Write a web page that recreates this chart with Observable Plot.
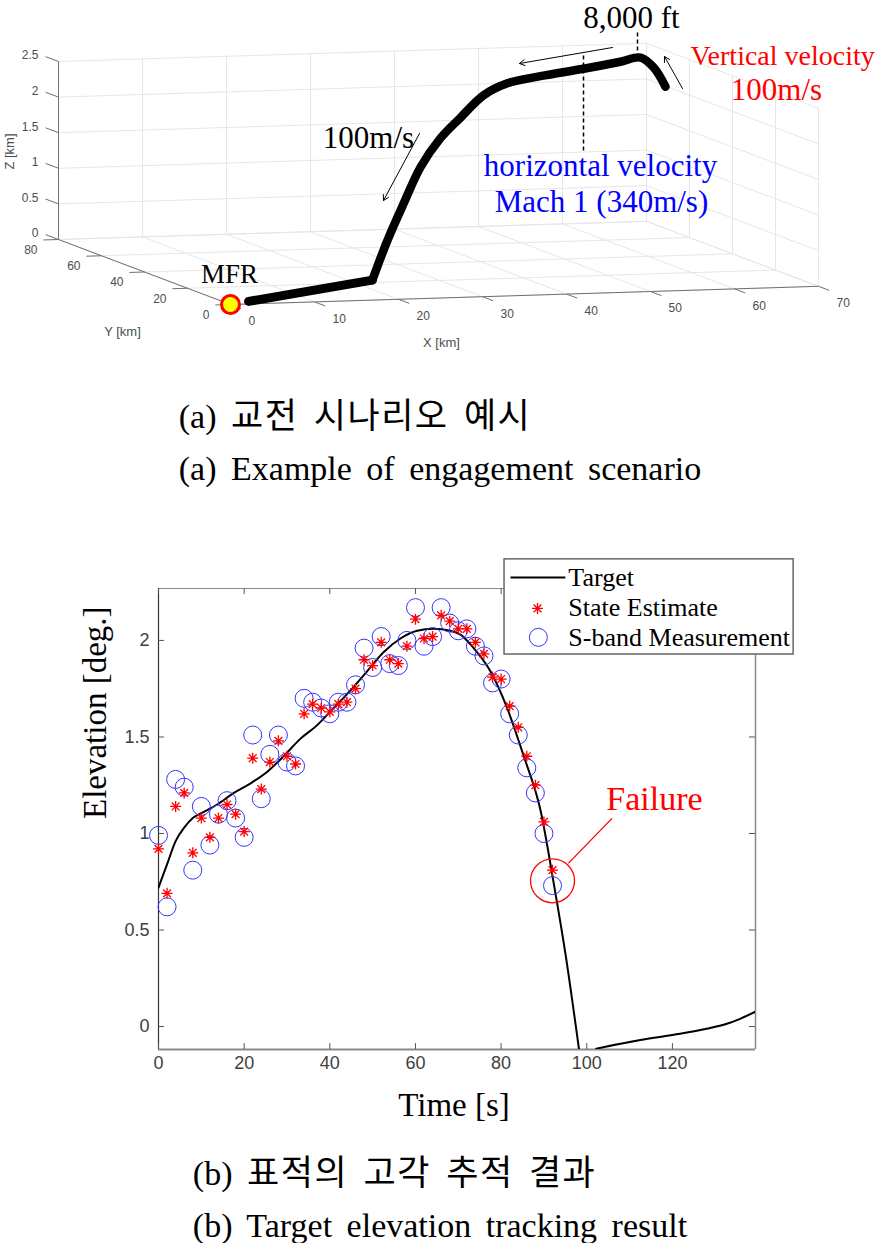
<!DOCTYPE html>
<html><head><meta charset="utf-8">
<script src="https://cdn.jsdelivr.net/npm/d3@7"></script>
<script src="https://cdn.jsdelivr.net/npm/@observablehq/plot@0.6"></script>
<style>
body{margin:0;background:#fff;}
#page{position:relative;width:880px;height:1243px;overflow:hidden;background:#fff;}
#pa{position:absolute;left:0;top:0;}
#pb{position:absolute;left:0;top:540px;}
.capblock{position:absolute;left:440px;transform:translateX(-50%);text-align:left;white-space:nowrap;
  font-family:"Liberation Serif","Noto Sans CJK KR",serif;font-size:34px;line-height:52px;color:#000;word-spacing:6px;}
.ko{font-family:"Noto Sans CJK KR",sans-serif;font-size:35px;letter-spacing:1.5px;}
</style></head><body><div id="page"><div id="pa"></div><div id="pb"></div>
<div class="capblock" style="top:387px"><div>(a) <span class="ko">교전 시나리오 예시</span></div><div>(a) Example of engagement scenario</div></div>
<div class="capblock" style="top:1144px"><div>(b) <span class="ko">표적의 고각 추적 결과</span></div><div>(b) Target elevation tracking result</div></div>
</div>
<script>
// ================= (a) 3-D engagement scenario =================
const xTicks3d = [0, 10, 20, 30, 40, 50, 60, 70];
const yTicks3d = [0, 20, 40, 60, 80];
const zTicks3d = [0, 0.5, 1, 1.5, 2, 2.5];
const zTickLabels3d = ["0", "0.5", "1", "1.5", "2", "2.5"];
// target trajectory [km]: low-altitude leg, then climb / cruise / pop-up
const legX = [2.9, 22.7];
const legY = [2.9, 22.7];
const legZ = [0, 0];
const trajX = [22.7, 25.1, 27.7, 30.4, 33.6, 36.8, 40.5, 44.3, 49.6, 56.5, 62.4, 65.6, 67.7, 69.6];
const trajY = [22.7, 25.1, 27.7, 30.4, 33.6, 36.8, 40.5, 44.3, 49.6, 56.5, 62.4, 65.6, 67.7, 69.6];
const trajZ = [0, 0.52, 1.00, 1.47, 1.83, 2.07, 2.33, 2.44, 2.46, 2.46, 2.47, 2.48, 2.31, 2.01];
const mfrPos = [0, 0, 0];

// ================= (b) elevation tracking =================
const measTime = [0,2,4,6,8,10,12,14,16,18,20,22,24,26,28,30,32,34,36,38,40,42,44,46,48,50,52,54,56,58,60,62,64,66,68,70,72,74,76,78,80,82,84,86,88,90,92];
const measElev = [0.99,0.62,1.28,1.24,0.81,1.14,0.94,1.10,1.17,1.08,0.98,1.51,1.18,1.41,1.51,1.37,1.35,1.70,1.68,1.65,1.62,1.68,1.68,1.77,1.96,1.86,2.02,1.88,1.87,2.00,2.17,1.97,2.02,2.17,2.09,2.05,2.06,1.97,1.92,1.78,1.80,1.62,1.51,1.34,1.21,1.00,0.73];
const estElev = [0.92,0.69,1.14,1.21,0.90,1.08,0.98,1.08,1.15,1.10,1.01,1.39,1.23,1.37,1.48,1.40,1.36,1.62,1.67,1.65,1.63,1.67,1.68,1.75,1.90,1.87,1.99,1.90,1.88,1.97,2.11,2.01,2.02,2.13,2.10,2.06,2.06,1.99,1.93,1.81,1.80,1.66,1.55,1.40,1.25,1.06,0.81];
const targetTime1 = [0,2,4,6,8,10,13.7,17.6,21.5,25.4,29.2,33.1,37,40.9,44.8,48.7,52.6,56.5,60.4,64.2,68.1,70.5,73.6,77.5,81.4,85.3,89.2,92.3,95,98.2];
const targetElev1 = [0.72,0.84,0.96,1.03,1.08,1.105,1.15,1.21,1.26,1.32,1.40,1.49,1.56,1.65,1.74,1.84,1.94,2.01,2.05,2.06,2.05,2.03,1.96,1.84,1.65,1.40,1.12,0.74,0.38,-0.12];
const targetTime2 = [102.2,112.5,120.3,128,132.7,135.8,139.4];
const targetElev2 = [-0.115,-0.07,-0.043,-0.012,0.014,0.04,0.077];
const xTicksB = [0,20,40,60,80,100,120];
const yTicksB = [0,0.5,1,1.5,2];
const yTickLabelsB = ["0","0.5","1","1.5","2"];
const legendLabels = ["Target","State Estimate","S-band Measurement"];
const failureTime = 92;

// ---------- projection of the 3-D box onto the page ----------
const O = [230, 304], UX = [8.4, -0.26], UY = [-2.15, -0.8125], UZ = [0, -71.2];
const proj = (X, Y, Z) => [O[0] + X*UX[0] + Y*UY[0] + Z*UZ[0], O[1] + X*UX[1] + Y*UY[1] + Z*UZ[1]];
const seg = (a, b) => { const p = proj(...a), q = proj(...b); return {x1:p[0], y1:p[1], x2:q[0], y2:q[1]}; };
const xMax = 70, yMax = 80, zMax = 2.5;

const grid = [];
xTicks3d.forEach(X => { grid.push(seg([X,0,0],[X,yMax,0])); grid.push(seg([X,yMax,0],[X,yMax,zMax])); });
yTicks3d.forEach(Y => { grid.push(seg([0,Y,0],[xMax,Y,0])); grid.push(seg([xMax,Y,0],[xMax,Y,zMax])); });
zTicks3d.forEach(Z => { grid.push(seg([0,yMax,Z],[xMax,yMax,Z])); grid.push(seg([xMax,0,Z],[xMax,yMax,Z])); });
const axes3 = [seg([0,yMax,0],[0,yMax,zMax]), seg([0,0,0],[0,yMax,0]), seg([0,0,0],[xMax,0,0])];
const ticks3 = [
  ...zTicks3d.map(Z => seg([0,yMax,Z],[0,yMax+6,Z])),
  ...yTicks3d.map(Y => seg([0,Y,0],[-1.8,Y,0])),
  ...xTicks3d.map(X => seg([X,0,0],[X,-5,0]))
];
const zLab = zTicks3d.map((Z,i) => { const p = proj(0,yMax,Z); return {x:p[0]-20, y:p[1]-6, t:zTickLabels3d[i]}; });
const yLab = yTicks3d.map(Y => { const p = proj(0,Y,0); return {x:p[0]-21, y:p[1]+10.5, t:String(Y)}; });
const xLab = xTicks3d.map(X => { const p = proj(X,0,0); return {x:p[0]+18, y:p[1]+17, t:String(X)}; });
const toPx = (X,Y,Z) => { const p = proj(X,Y,Z); return {px:p[0], py:p[1]}; };
const leg = legX.map((X,i) => toPx(X, legY[i], legZ[i]));
const traj = trajX.map((X,i) => toPx(X, trajY[i], trajZ[i]));
const mfrP = proj(...mfrPos);

// annotations (page pixels of panel a)
const notesA = [
  {x:631, y:18, t:"8,000 ft", c:"#000"},
  {x:776, y:90, t:"100m/s", c:"#ff0000"},
  {x:600, y:166, t:"horizontal velocity", c:"#0000ff"},
  {x:601, y:202, t:"Mach 1 (340m/s)", c:"#0000ff"},
  {x:368, y:138, t:"100m/s", c:"#000"}
];
const arrowsA = [
  {x1:419, y1:133, x2:383, y2:200},
  {x1:612, y1:47, x2:519, y2:63},
  {x1:682, y1:88, x2:664, y2:56}
];
const dashesA = [
  {x1:637, y1:32, x2:637, y2:55},
  {x1:583, y1:55, x2:583, y2:152}
];
const L = {x1:"x1", y1:"y1", x2:"x2", y2:"y2"};

const plotA = Plot.plot({
  width: 880, height: 360, margin: 0,
  x: {domain:[0,880], range:[0,880], axis:null},
  y: {domain:[0,360], range:[0,360], axis:null},
  style: {background:"transparent", overflow:"visible"},
  marks: [
    Plot.link(grid, {...L, stroke:"#e6e6e6", strokeWidth:1}),
    Plot.link(axes3, {...L, stroke:"#707070", strokeWidth:1}),
    Plot.link(ticks3, {...L, stroke:"#707070", strokeWidth:1}),
    Plot.text(zLab, {x:"x", y:"y", text:"t", textAnchor:"end", fontSize:12, fill:"#4d4d4d", fontFamily:"Liberation Sans"}),
    Plot.text(yLab, {x:"x", y:"y", text:"t", textAnchor:"end", fontSize:12, fill:"#4d4d4d", fontFamily:"Liberation Sans"}),
    Plot.text(xLab, {x:"x", y:"y", text:"t", textAnchor:"start", fontSize:12, fill:"#4d4d4d", fontFamily:"Liberation Sans"}),
    Plot.text(["X [km]"], {x:441, y:342, fontSize:13, fill:"#4d4d4d", fontFamily:"Liberation Sans"}),
    Plot.text(["Y [km]"], {x:122, y:331, fontSize:13, fill:"#4d4d4d", fontFamily:"Liberation Sans"}),
    Plot.text(["Z [km]"], {x:9, y:151, rotate:-90, fontSize:13, fill:"#4d4d4d", fontFamily:"Liberation Sans"}),
    Plot.link(dashesA, {...L, stroke:"#000", strokeWidth:1.5, strokeDasharray:"4,3"}),
    Plot.line(leg, {x:"px", y:"py", stroke:"#000", strokeWidth:9, strokeLinecap:"round", strokeLinejoin:"round"}),
    Plot.line(traj, {x:"px", y:"py", stroke:"#000", strokeWidth:8.5, strokeLinecap:"round", strokeLinejoin:"round", curve:"catmull-rom"}),
    Plot.dot([mfrP], {x:d=>d[0], y:d=>d[1], r:9, fill:"#ffff00", stroke:"#ff0000", strokeWidth:3}),
    Plot.text(["MFR"], {x:229, y:274, fontSize:27, fill:"#000", fontFamily:"Liberation Serif"}),
    Plot.arrow(arrowsA, {...L, stroke:"#000", strokeWidth:1, headLength:9}),
    Plot.text(notesA, {x:"x", y:"y", text:"t", fill:"c", fontSize:31, fontFamily:"Liberation Serif"}),
    Plot.text(["Vertical velocity"], {x:690, y:56, textAnchor:"start", fill:"#ff0000", fontSize:28, fontFamily:"Liberation Serif"})
  ]
});
document.getElementById("pa").appendChild(plotA);

// ---------- (b) ----------
const xDomB = [0, 139.4], yDomB = [-0.119, 2.269];
const frameW = 880 - 158 - 125, frameH = 600 - 48 - 91;
const target1 = targetTime1.map((t,i) => ({t, v:targetElev1[i]}));
const target2 = targetTime2.map((t,i) => ({t, v:targetElev2[i]}));
const meas = measTime.map((t,i) => ({t, v:measElev[i]}));
const est = measTime.map((t,i) => ({t, v:estElev[i]}));
const asterisk = {draw(ctx, size){ const r = Math.sqrt(size/Math.PI), d = r*Math.SQRT1_2;
  ctx.moveTo(-r,0); ctx.lineTo(r,0); ctx.moveTo(0,-r); ctx.lineTo(0,r);
  ctx.moveTo(-d,-d); ctx.lineTo(d,d); ctx.moveTo(-d,d); ctx.lineTo(d,-d); }};
const failIdx = measTime.indexOf(failureTime);
const failPt = {t: failureTime, v: (measElev[failIdx] + estElev[failIdx]) / 2 - 0.015};
const legendBox = {x1:80.8, x2:148.3, y1:1.927, y2:2.42};
const serif = "Liberation Serif";

const plotB = Plot.plot({
  width: 880, height: 600, marginTop: 48, marginBottom: 91, marginLeft: 158, marginRight: 125,
  x: {domain: xDomB, axis: null},
  y: {domain: yDomB, axis: null},
  style: {background:"transparent", overflow:"visible"},
  marks: [
    Plot.ruleY([yDomB[1]], {stroke:"#8a8a8a", strokeWidth:1.2}),
    Plot.ruleX([xDomB[1]], {stroke:"#8a8a8a", strokeWidth:1.5}),
    Plot.ruleY([yDomB[0]], {stroke:"#8a8a8a", strokeWidth:2}),
    Plot.ruleX([xDomB[0]], {stroke:"#333", strokeWidth:1.2}),
    Plot.tickX(xTicksB, {x:d=>d, insetTop: frameH - 6, stroke:"#555"}),
    Plot.tickX(xTicksB, {x:d=>d, insetBottom: frameH - 6, stroke:"#555"}),
    Plot.tickY(yTicksB, {y:d=>d, insetRight: frameW - 6, stroke:"#555"}),
    Plot.tickY(yTicksB, {y:d=>d, insetLeft: frameW - 6, stroke:"#555"}),
    Plot.text(xTicksB, {x:d=>d, frameAnchor:"bottom", dy:19, fontSize:18, fill:"#404040", fontFamily:"Liberation Sans"}),
    Plot.text(yTicksB, {y:d=>d, text:(d,i)=>yTickLabelsB[i], frameAnchor:"left", textAnchor:"end", dx:-9, fontSize:18, fill:"#404040", fontFamily:"Liberation Sans"}),
    Plot.text(["Time [s]"], {frameAnchor:"bottom", dx:-3, dy:66, fontSize:33, fontFamily:serif, fill:"#000"}),
    Plot.text(["Elevation [deg.]"], {frameAnchor:"left", dx:-63, rotate:-90, fontSize:33, fontFamily:serif, fill:"#000"}),
    Plot.line(target1, {x:"t", y:"v", stroke:"#000", strokeWidth:2, curve:"monotone-x", clip:true}),
    Plot.line(target2, {x:"t", y:"v", stroke:"#000", strokeWidth:2, curve:"monotone-x", clip:true}),
    Plot.dot(meas, {x:"t", y:"v", r:9, stroke:"#3535ff", strokeWidth:1, fill:"none"}),
    Plot.dot(est, {x:"t", y:"v", symbol:asterisk, r:5.5, stroke:"#ff0000", strokeWidth:1.3, fill:"none"}),
    // failure annotation
    Plot.dot([failPt], {x:"t", y:"v", r:22, stroke:"#ff0000", strokeWidth:1.3, fill:"none"}),
    Plot.link([{x1:95.7, y1:0.845, x2:105.9, y2:1.078}], {...L, stroke:"#ff0000", strokeWidth:1.3}),
    Plot.text(["Failure"], {x:115.8, y:1.176, fontSize:34, fill:"#ff0000", fontFamily:serif}),
    // legend
    Plot.rect([legendBox], {x1:"x1", x2:"x2", y1:"y1", y2:"y2", fill:"#fff", stroke:"#666", strokeWidth:1.5}),
    Plot.link([{x1:82.2, x2:95.0, y1:2.326, y2:2.326}], {...L, stroke:"#000", strokeWidth:2}),
    Plot.dot([{t:88.5, v:2.166}], {x:"t", y:"v", symbol:asterisk, r:5.5, stroke:"#ff0000", strokeWidth:1.3, fill:"none"}),
    Plot.dot([{t:88.7, v:2.016}], {x:"t", y:"v", r:9, stroke:"#3535ff", strokeWidth:1, fill:"none"}),
    Plot.text(legendLabels, {x:95.7, y:(d,i)=>[2.326,2.171,2.016][i], textAnchor:"start", fontSize:26, fontFamily:serif, fill:"#000"})
  ]
});
document.getElementById("pb").appendChild(plotB);
</script></body></html>
